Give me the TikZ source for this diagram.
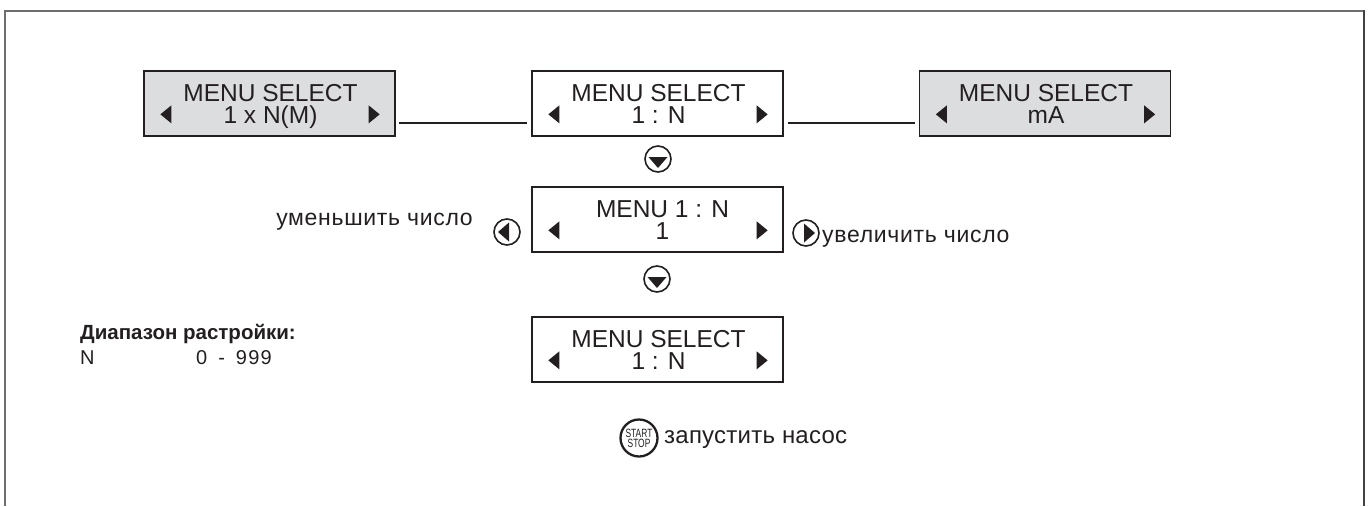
\documentclass[tikz,border=0pt]{standalone}
\usepackage{fontspec}
\setmainfont{Liberation Sans}
\newfontfamily\condfont[FakeStretch=0.7]{Liberation Sans}
\definecolor{scrgray}{HTML}{DCDDDF}
\definecolor{ink}{HTML}{231F20}
\definecolor{framegray}{HTML}{6E6E6E}
\begin{document}
\begin{tikzpicture}[x=1pt,y=-1pt,
  scr/.style={draw=ink, line width=1.3pt, minimum width=251pt, minimum height=65pt, inner sep=0pt},
  lbl/.style={inner sep=0pt, text=ink, font=\fontsize{24.5}{24}\selectfont},
  rus/.style={inner sep=0pt, text=ink, font=\fontsize{23}{23}\selectfont\addfontfeature{LetterSpace=3}},
  tri/.style={fill=ink},
  conn/.style={draw=ink, line width=2.2pt},
  btn/.style={circle, draw=ink, line width=1.6pt, minimum size=26pt, inner sep=0pt},
]
\useasboundingbox (0,0) rectangle (1370,506);
% frame
\draw[framegray, line width=2pt] (5,506) -- (5,11) -- (1364,11);
\draw[ink!85, line width=2pt] (1364,10) -- (1364,506);

\newcommand\lcdscreen[7]{%
  \node[scr, fill=#6] (#1) at (#2,#3) {};
  \node[lbl, anchor=base] (#1-a) at ([xshift=#7,yshift=-31pt]#1.north) {#4};
  \node[lbl, anchor=base] (#1-b) at ([xshift=#7,yshift=-53pt]#1.north) {#5};
  \fill[tri] ([xshift=17pt,yshift=-44pt]#1.north west) -- ++(11,-9) -- ++(0,18) -- cycle;
  \fill[tri] ([xshift=-16pt,yshift=-44pt]#1.north east) -- ++(-11,-9) -- ++(0,18) -- cycle;
}

\lcdscreen{s1}{269.5}{103.5}{MENU SELECT}{1 x N(M)}{scrgray}{1pt}
\lcdscreen{s2}{657.5}{103.5}{MENU SELECT}{1 : N}{white}{1pt}
\lcdscreen{s3}{1045}{103.5}{MENU SELECT}{mA}{scrgray}{1pt}
\lcdscreen{s4}{657.5}{219.5}{MENU 1 : N}{1}{white}{5pt}
\lcdscreen{s5}{657.5}{349.5}{MENU SELECT}{1 : N}{white}{1pt}

% connectors
\draw[conn] ([shift={(3,19.5)}]s1.east) -- ([shift={(-4,19.5)}]s2.west);
\draw[conn] ([shift={(4,19.5)}]s2.east) -- ([shift={(-4,19.5)}]s3.west);

% down buttons
\node[btn] (d1) at (658,159) {};
\fill[tri] ([shift={(-9.5,-2)}]d1.center) -- ++(19,0) -- ++(-9.5,11) -- cycle;
\node[btn] (d2) at (657,279) {};
\fill[tri] ([shift={(-9.5,-2)}]d2.center) -- ++(19,0) -- ++(-9.5,11) -- cycle;
% left / right buttons
\node[btn] (bl) at (507,232) {};
\fill[tri] ([shift={(2,-9.5)}]bl.center) -- ++(0,19) -- ++(-11,-9.5) -- cycle;
\node[btn] (br) at (806,233) {};
\fill[tri] ([shift={(-2,-9.5)}]br.center) -- ++(0,19) -- ++(11,-9.5) -- cycle;

\node[rus, anchor=base east] (tdec) at (473,225) {уменьшить число};
\node[rus, anchor=base west] (tinc) at (822,242) {увеличить число};

% range
\node[inner sep=0pt, anchor=base west, text=ink, font=\fontsize{20.5}{20}\selectfont\bfseries] (rng) at (80,339) {Диапазон растройки:};
\node[inner sep=0pt, anchor=base west, text=ink, font=\fontsize{20}{20}\selectfont] (rn) at (80,364) {N};
\node[inner sep=0pt, anchor=base west, text=ink, font=\fontsize{20}{20}\selectfont\addfontfeature{LetterSpace=6}] (rv) at (196,364) {0\hspace{11pt}-\hspace{11pt}999};

% start stop
\node[circle, draw=ink, line width=2.3pt, minimum size=37pt, inner sep=0pt, align=center, text=ink,
  font=\condfont\fontsize{12}{10}\selectfont] (ss) at (639,438) {START\\STOP};
\node[rus, anchor=base west, font=\fontsize{24}{24}\selectfont\addfontfeature{LetterSpace=1}] (tss) at (664,443) {запустить насос};
\end{tikzpicture}
\end{document}
